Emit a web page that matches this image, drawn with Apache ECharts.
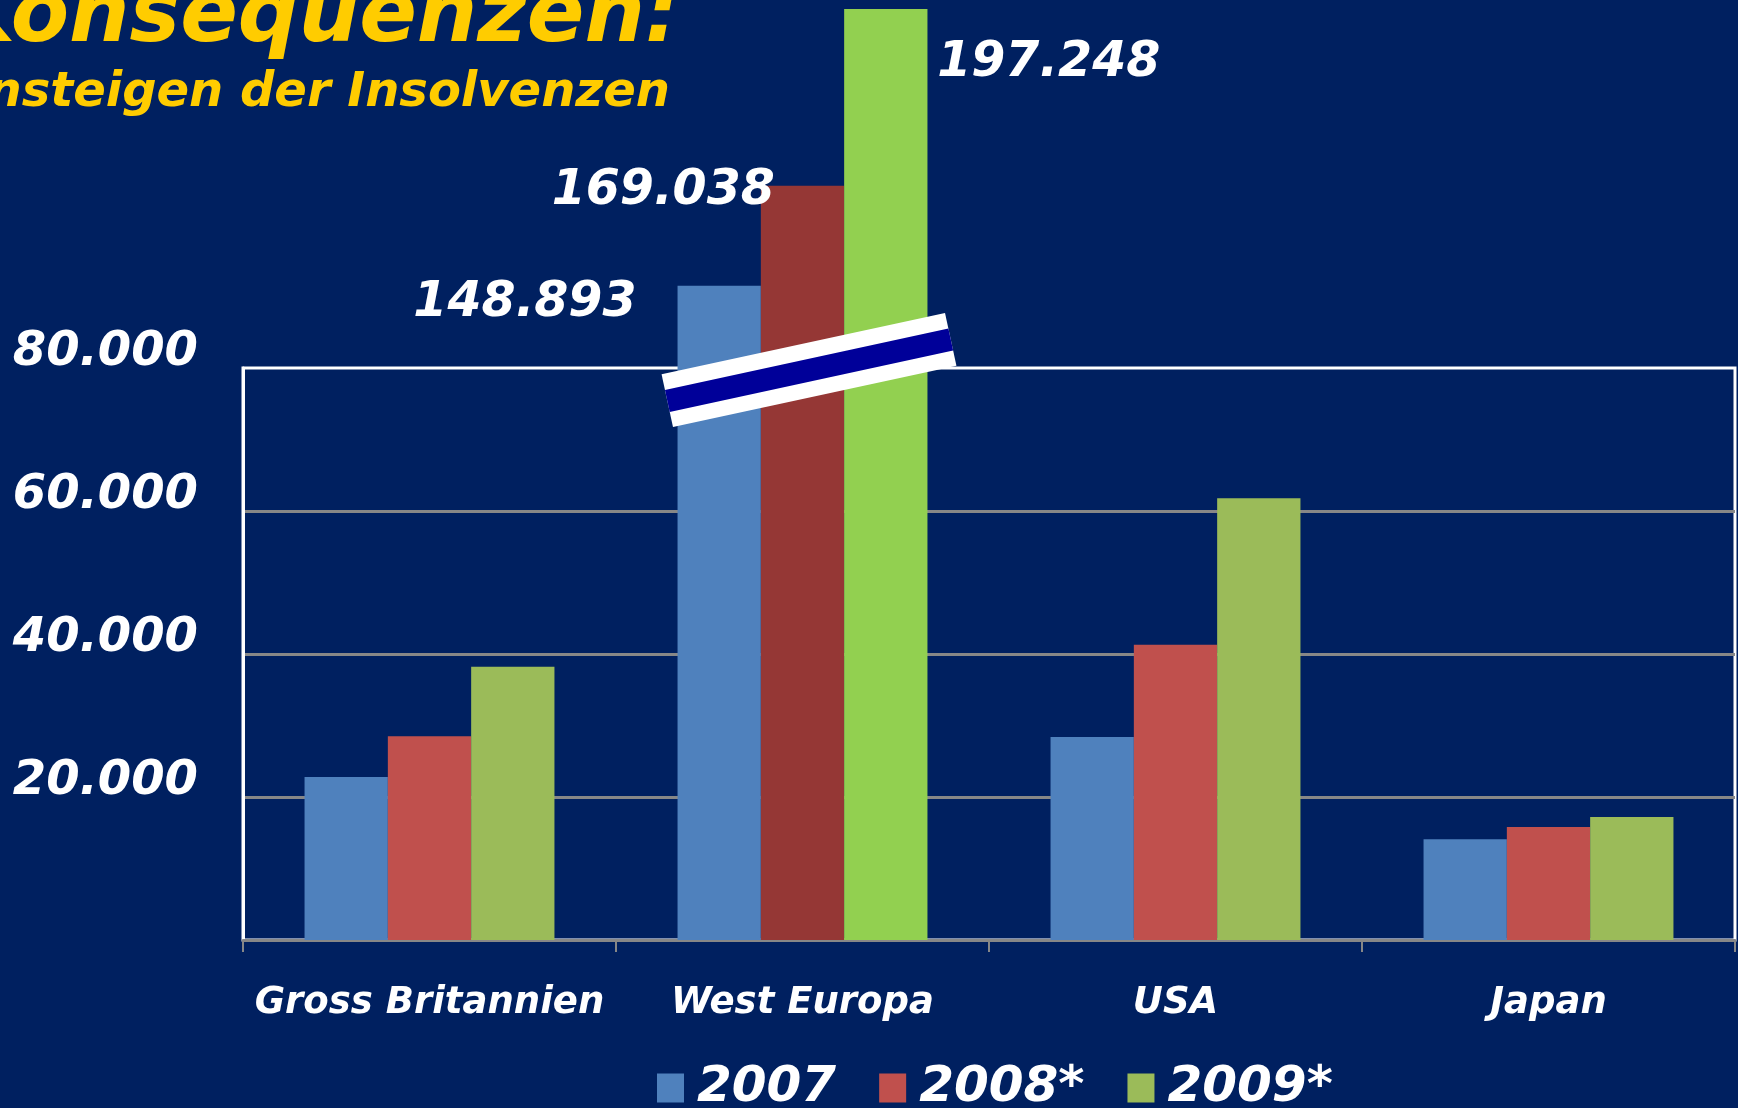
<!DOCTYPE html>
<html>
<head>
<meta charset="utf-8">
<title>Konsequenzen: Ansteigen der Insolvenzen</title>
<script src="https://cdn.jsdelivr.net/npm/echarts@6/dist/echarts.min.js"></script>
<style>
    html, body { margin: 0; padding: 0; background: #002060; }
    #main { width: 1738px; height: 1108px; }
</style>
</head>
<body>
<div id="main"></div>
<script>
var categories = ['Gross Britannien', 'West Europa', 'USA', 'Japan'];
var years = ['2007', '2008*', '2009*'];

// Insolvenzen je Land
var values2007 = [22800, 91500, 28400, 14100];
var values2008 = [28500, 105500, 41300, 15800];
var values2009 = [38200, 130200, 61800, 17200];

// West Europa laeuft ueber den Achsenbruch, die echten Zahlen stehen an den Balken
var westEuropaReal = [148893, 169038, 197248];

var fontFamily = '"DejaVu Sans", Verdana, sans-serif';

function fmt(n) {
    return String(n).replace(/\B(?=(\d{3})+(?!\d))/g, '.');
}

var chart = echarts.init(document.getElementById('main'));

var barColors = ['#4F81BD', '#C0504D', '#9BBB59'];
var westColors = ['#4F81BD', '#953735', '#92D050'];
// label offset from the top-left of each West Europa bar
var westLabelPos = [
    { position: [-41, 17], align: 'right' },
    { position: [14, 6], align: 'right' },
    { position: [93, 54], align: 'left' }
];

function makeSeries(idx, values) {
    return {
        name: years[idx],
        type: 'bar',
        clip: false,
        barGap: '0%',
        barCategoryGap: '33%',
        itemStyle: { color: barColors[idx] },
        emphasis: { disabled: true },
        data: values.map(function (v, i) {
            if (i !== 1) return v;
            return {
                value: v,
                itemStyle: { color: westColors[idx] },
                label: {
                    show: true,
                    position: westLabelPos[idx].position,
                    align: westLabelPos[idx].align,
                    verticalAlign: 'middle',
                    formatter: fmt(westEuropaReal[idx]),
                    color: '#fff',
                    fontSize: 49,
                    fontWeight: 'bold',
                    fontStyle: 'italic',
                    fontFamily: fontFamily
                }
            };
        })
    };
}

var option = {
    backgroundColor: '#002060',
    animation: false,
    grid: {
        left: 243,
        right: 3,
        top: 368,
        bottom: 168,
        show: true,
        borderColor: '#ffffff',
        borderWidth: 3,
        backgroundColor: 'transparent'
    },
    legend: {
        data: years,
        left: 652,
        top: 1058,
        icon: 'rect',
        itemWidth: 27,
        itemHeight: 29,
        itemGap: 43,
        textStyle: {
            color: '#fff',
            fontSize: 50,
            fontWeight: 'bold',
            fontStyle: 'italic',
            fontFamily: fontFamily,
            padding: [0, 0, 0, 8]
        }
    },
    xAxis: {
        type: 'category',
        data: categories,
        axisLine: { lineStyle: { color: '#878787', width: 3 } },
        axisTick: { show: true, length: 12, lineStyle: { color: '#878787', width: 2 } },
        axisLabel: {
            interval: 0,
            margin: 45,
            color: '#fff',
            fontSize: 37,
            fontWeight: 'bold',
            fontStyle: 'italic',
            fontFamily: fontFamily
        }
    },
    yAxis: {
        type: 'value',
        min: 0,
        max: 80000,
        interval: 20000,
        axisLine: { show: true, lineStyle: { color: '#ffffff', width: 3 } },
        axisTick: { show: false },
        splitLine: { showMaxLine: false, lineStyle: { color: '#878787', width: 3 } },
        axisLabel: {
            margin: 45,
            verticalAlign: 'bottom',
            lineHeight: 31,
            color: '#fff',
            fontSize: 48,
            fontWeight: 'bold',
            fontStyle: 'italic',
            fontFamily: fontFamily,
            formatter: function (v) { return v === 0 ? '' : fmt(v); }
        }
    },
    graphic: [
        {
            type: 'text',
            x: 679,
            y: 19,
            z: 100,
            style: {
                text: 'Konsequenzen:',
                fill: '#FFCC00',
                font: 'italic bold 85px ' + fontFamily,
                align: 'right',
                verticalAlign: 'middle'
            }
        },
        {
            type: 'text',
            x: 670,
            y: 94,
            z: 100,
            style: {
                text: 'Ansteigen der Insolvenzen',
                fill: '#FFCC00',
                font: 'italic bold 48px ' + fontFamily,
                align: 'right',
                verticalAlign: 'middle'
            }
        },
        // Achsenbruch
        {
            type: 'group',
            x: 809,
            y: 370,
            rotation: 0.213,
            children: [
                { type: 'rect', z: 100, shape: { x: -145, y: -27, width: 290, height: 54 }, style: { fill: '#ffffff' } },
                { type: 'rect', z: 101, shape: { x: -145, y: -11, width: 290, height: 22.5 }, style: { fill: '#000099' } }
            ]
        }
    ],
    series: [
        makeSeries(0, values2007),
        makeSeries(1, values2008),
        makeSeries(2, values2009)
    ]
};

chart.setOption(option);
</script>
</body>
</html>
